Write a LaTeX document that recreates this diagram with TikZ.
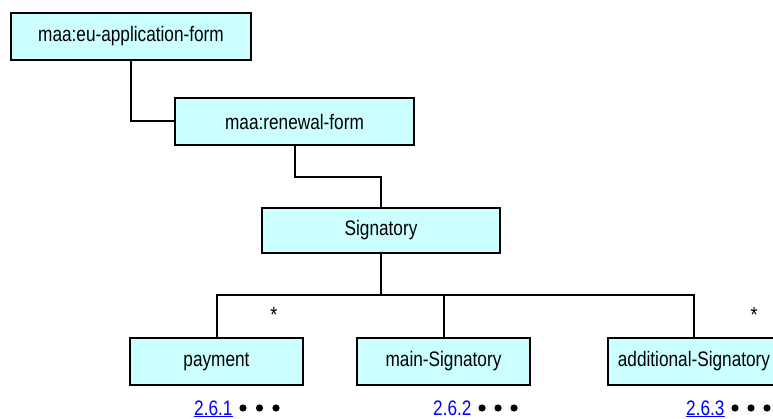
\documentclass[tikz,border=0pt]{standalone}
\usepackage{fontspec}
\setmainfont{Liberation Sans}[FakeStretch=0.82]
\begin{document}
\begin{tikzpicture}[x=1pt,y=-1pt,
  box/.style={draw=black,line width=2pt,fill=boxfill,minimum height=47pt,inner sep=0pt,font=\fontsize{21}{24}\selectfont},
  conn/.style={draw=black,line width=2pt},
  lbl/.style={anchor=base west,inner sep=0pt,text=linkblue,font=\fontsize{21}{24}\selectfont},
  star/.style={inner sep=0pt,font=\fontsize{22}{24}\selectfont},
  dot/.style={fill=black,draw=none}]
\definecolor{boxfill}{HTML}{CCFFFF}
\definecolor{linkblue}{HTML}{0000FF}
\useasboundingbox (0,0) rectangle (773,419);
\clip (0,0) rectangle (773,419);
\node[box,minimum width=240pt] (b1) at (131,36.5) {maa:eu-application-form};
\node[box,minimum width=239pt] (b2) at (294.5,121.5) {maa:renewal-form};
\node[box,minimum width=238pt,minimum height=45pt] (sig) at (381,230.5) {Signatory};
\node[box,minimum width=173pt] (pay) at (216.5,361.5) {payment};
\node[box,minimum width=173pt] (main) at (443.5,361.5) {main-Signatory};
\node[box,minimum width=173pt] (add) at (694,361.5) {additional-Signatory};
\coordinate (bus) at (381,295);
\coordinate (mid) at (294.5,177);
\draw[conn] (b1.south) |- (b2.west);
\draw[conn] (b2.south) -- (mid) -| (sig.north);
\draw[conn] (sig.south) -- (bus);
\draw[conn] (pay.north) |- (bus) -| (add.north);
\draw[conn] (main.north) -- (main.north |- bus);
\node[star] (s1) at (274,315) {*};
\node[star] (s2) at (754,315) {*};
\node[lbl] (l1) at (194,415) {\underline{2.6.1}};
\node[lbl] (l2) at (433,415) {2.6.2};
\node[lbl] (l3) at (686,415) {\underline{2.6.3}};
\foreach \x in {243,259.5,276,482,498,514,735,751,767}
  \fill[dot] (\x,408) circle (3.6);
\end{tikzpicture}
\end{document}
